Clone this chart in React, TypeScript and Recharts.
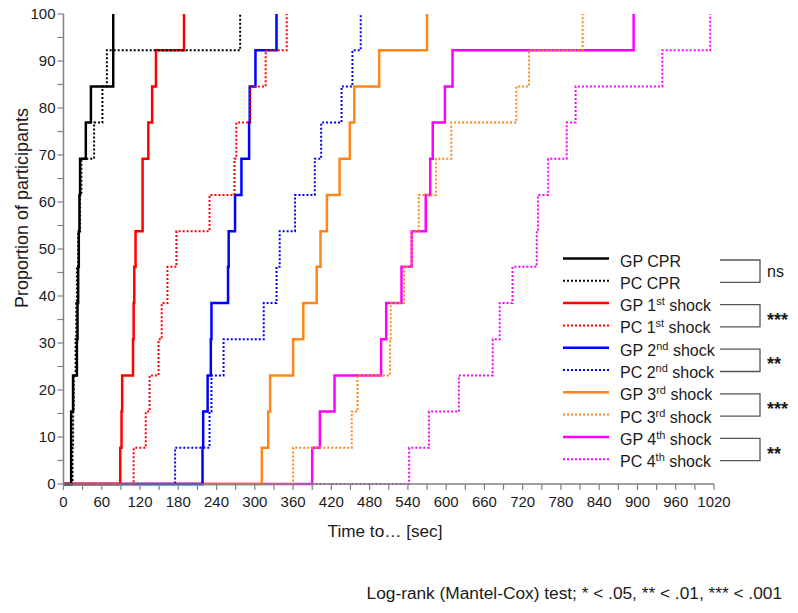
import { Line, LineChart, XAxis, YAxis } from "recharts";

// cumulative proportion after each participant (n = 13 per group)
const LEVELS = [0, 7.7, 15.4, 23.1, 30.8, 38.5, 46.2, 53.8, 61.5, 69.2, 76.9, 84.6, 92.3, 100];

// event times in seconds, one per participant
const GP_CPR = [12, 12, 15, 21, 22, 23, 24, 25, 26, 35, 43, 78, 78];
const PC_CPR = [14, 15, 16, 19, 20, 21, 23, 26, 28, 48, 61, 68, 277];
const GP_1ST = [89, 91, 92, 109, 110, 111, 113, 124, 124, 133, 139, 145, 189];
const PC_1ST = [110, 129, 135, 149, 154, 163, 177, 229, 268, 271, 293, 317, 350];
const GP_2ND = [218, 219, 226, 231, 232, 258, 259, 269, 279, 291, 292, 301, 334];
const PC_2ND = [175, 229, 232, 251, 314, 334, 339, 363, 394, 404, 436, 453, 466];
const GP_3RD = [311, 321, 324, 360, 376, 397, 403, 413, 433, 449, 456, 495, 570];
const PC_3RD = [360, 452, 461, 512, 513, 534, 546, 557, 584, 608, 710, 730, 814];
const GP_4TH = [390, 402, 425, 498, 506, 530, 546, 568, 575, 579, 598, 610, 894];
const PC_4TH = [542, 573, 620, 673, 684, 704, 742, 744, 760, 789, 803, 939, 1014];

const X_TICKS = [
  0, 30, 60, 90, 120, 150, 180, 210, 240, 270, 300, 330, 360, 390, 420, 450, 480,
  510, 540, 570, 600, 630, 660, 690, 720, 750, 780, 810, 840, 870, 900, 930, 960,
  990, 1020,
];
const Y_TICKS = [0, 5, 10, 15, 20, 25, 30, 35, 40, 45, 50, 55, 60, 65, 70, 75, 80, 85, 90, 95, 100];

const FONT = "'Liberation Sans', Arial, sans-serif";
const AXIS = "#808080";
const INK = "#1a1a1a";

interface Series {
  key: string;
  prefix: string;
  ord: string;
  sup: string;
  rest: string;
  color: string;
  dotted: boolean;
  times: number[];
}

const SERIES: Series[] = [
  { key: "gpcpr", prefix: "GP ", ord: "", sup: "", rest: "CPR", color: "#000000", dotted: false, times: GP_CPR },
  { key: "pccpr", prefix: "PC ", ord: "", sup: "", rest: "CPR", color: "#000000", dotted: true, times: PC_CPR },
  { key: "gp1", prefix: "GP ", ord: "1", sup: "st", rest: " shock", color: "#ff0000", dotted: false, times: GP_1ST },
  { key: "pc1", prefix: "PC ", ord: "1", sup: "st", rest: " shock", color: "#ff0000", dotted: true, times: PC_1ST },
  { key: "gp2", prefix: "GP ", ord: "2", sup: "nd", rest: " shock", color: "#0000ff", dotted: false, times: GP_2ND },
  { key: "pc2", prefix: "PC ", ord: "2", sup: "nd", rest: " shock", color: "#0000ff", dotted: true, times: PC_2ND },
  { key: "gp3", prefix: "GP ", ord: "3", sup: "rd", rest: " shock", color: "#ff8619", dotted: false, times: GP_3RD },
  { key: "pc3", prefix: "PC ", ord: "3", sup: "rd", rest: " shock", color: "#ff8619", dotted: true, times: PC_3RD },
  { key: "gp4", prefix: "GP ", ord: "4", sup: "th", rest: " shock", color: "#ff00ff", dotted: false, times: GP_4TH },
  { key: "pc4", prefix: "PC ", ord: "4", sup: "th", rest: " shock", color: "#ff00ff", dotted: true, times: PC_4TH },
];

const SIG = ["ns", "***", "**", "***", "**"];

function toSteps(times: number[]) {
  return [{ t: 0, p: LEVELS[0] }, ...times.map((t, i) => ({ t, p: LEVELS[i + 1] }))];
}

function Overlay() {
  const row0 = 258.5;
  const rowH = 22.3;
  return (
    <svg
      width={798}
      height={613}
      style={{ position: "absolute", left: 0, top: 0, pointerEvents: "none" }}
      fontFamily={FONT}
    >
      <text
        x={28}
        y={208}
        transform="rotate(-90 28 208)"
        textAnchor="middle"
        fontSize={18}
        fill={INK}
      >
        Proportion of participants
      </text>
      <text x={385} y={537} textAnchor="middle" fontSize={17.2} fill={INK}>
        Time to… [sec]
      </text>
      <text x={782} y={599} textAnchor="end" fontSize={17.3} fill={INK}>
        Log-rank (Mantel-Cox) test; * &lt; .05, ** &lt; .01, *** &lt; .001
      </text>

      {SERIES.map((s, i) => {
        const y = row0 + i * rowH;
        return (
          <g key={s.key}>
            <line
              x1={563}
              x2={609}
              y1={y}
              y2={y}
              stroke={s.color}
              strokeWidth={s.dotted ? 2 : 2.5}
              strokeDasharray={s.dotted ? "2 2" : undefined}
            />
            <text x={620} y={y + 8} fontSize={16} fill={INK}>
              {s.prefix}
              {s.ord}
              {s.sup && (
                <tspan fontSize={11} dy={-6}>
                  {s.sup}
                </tspan>
              )}
              {s.sup ? <tspan dy={6}>{s.rest}</tspan> : s.rest}
            </text>
          </g>
        );
      })}

      {SIG.map((label, j) => {
        const y1 = row0 + 2 * j * rowH + 1.5;
        const y2 = y1 + rowH;
        const mid = (y1 + y2) / 2;
        return (
          <g key={j}>
            <polyline
              points={`720,${y1} 760,${y1} 760,${y2} 720,${y2}`}
              fill="none"
              stroke="#555"
              strokeWidth={1.3}
            />
            {label === "ns" ? (
              <text x={767} y={mid + 5.5} fontSize={16} fill={INK}>
                ns
              </text>
            ) : (
              <text x={767} y={mid + 10} fontSize={18} fontWeight="bold" fill={INK}>
                {label}
              </text>
            )}
          </g>
        );
      })}
    </svg>
  );
}

export default function App() {
  // draw in reverse so GP CPR ends up on top, as in the original
  const drawOrder = [...SERIES].reverse();
  return (
    <div style={{ position: "absolute", left: 0, top: 0, width: 798, height: 613, background: "#fff" }}>
      <LineChart
        width={798}
        height={613}
        margin={{ top: 14, right: 84, bottom: 99, left: 23.5 }}
        style={{ fontFamily: FONT }}
      >
        <XAxis
          dataKey="t"
          type="number"
          domain={[0, 1020]}
          ticks={X_TICKS}
          interval={0}
          allowDataOverflow
          height={30}
          tickFormatter={(v: number) => (v % 60 === 0 ? String(v) : "")}
          tick={{ fill: INK, fontSize: 15 }}
          tickSize={6}
          tickMargin={6}
          axisLine={{ stroke: AXIS, strokeWidth: 1.5 }}
          tickLine={{ stroke: AXIS, strokeWidth: 1.2 }}
        />
        <YAxis
          type="number"
          domain={[0, 100]}
          ticks={Y_TICKS}
          interval={0}
          width={40}
          tickFormatter={(v: number) => (v % 10 === 0 ? String(v) : "")}
          tick={{ fill: INK, fontSize: 15 }}
          tickSize={6}
          tickMargin={2}
          axisLine={{ stroke: AXIS, strokeWidth: 1.5 }}
          tickLine={{ stroke: AXIS, strokeWidth: 1.2 }}
        />
        {drawOrder.map((s) => (
          <Line
            key={s.key}
            data={toSteps(s.times)}
            dataKey="p"
            type="stepAfter"
            stroke={s.color}
            strokeWidth={s.dotted ? 2 : 2.5}
            strokeDasharray={s.dotted ? "2 2" : undefined}
            dot={false}
            activeDot={false}
            isAnimationActive={false}
          />
        ))}
      </LineChart>
      <Overlay />
    </div>
  );
}
